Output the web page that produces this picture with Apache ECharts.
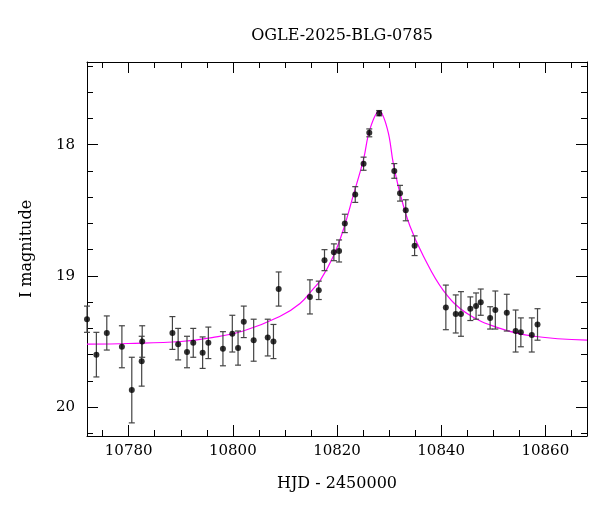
<!DOCTYPE html>
<html><head><meta charset="utf-8">
<script src="https://cdn.jsdelivr.net/npm/echarts@6/dist/echarts.min.js"></script>
<style>html,body{margin:0;padding:0;background:#fff}#c{width:600px;height:512px}</style>
</head><body><div id="c"></div>
<script>
const hjd = [10772.0,10773.8,10775.8,10778.7,10780.6,10782.5,10782.6,10788.4,10789.5,10791.2,10792.4,10794.2,10795.3,10798.1,10799.9,10801.0,10802.1,10804.0,10806.7,10807.8,10808.8,10814.8,10816.5,10817.6,10819.4,10820.4,10821.5,10823.5,10825.1,10826.2,10828.1,10831.0,10832.1,10833.2,10834.9,10840.9,10842.8,10843.8,10845.6,10846.7,10847.6,10849.4,10850.4,10852.6,10854.3,10855.3,10857.4,10858.5];
const mag = [19.33,19.60,19.435,19.54,19.87,19.65,19.50,19.435,19.52,19.58,19.51,19.585,19.51,19.555,19.44,19.55,19.35,19.49,19.47,19.50,19.10,19.16,19.11,18.88,18.82,18.81,18.60,18.38,18.145,17.91,17.76,18.20,18.37,18.50,18.77,19.24,19.29,19.29,19.25,19.23,19.20,19.32,19.26,19.28,19.42,19.43,19.45,19.37];
const err = [0.10,0.17,0.13,0.16,0.25,0.19,0.12,0.125,0.12,0.12,0.11,0.12,0.12,0.13,0.14,0.13,0.12,0.16,0.14,0.13,0.13,0.13,0.07,0.08,0.064,0.084,0.07,0.06,0.05,0.03,0.02,0.056,0.06,0.08,0.075,0.17,0.145,0.17,0.09,0.10,0.10,0.085,0.145,0.14,0.16,0.11,0.13,0.12];
const modelT = [10772,10780,10790,10796,10802,10809,10812.9,10815.4,10816.7,10819.3,10821.2,10823.1,10825.1,10826.3,10828.1,10829.7,10830.8,10832.1,10834.0,10836.6,10840.4,10844.9,10851.3,10857.8,10868];
const modelM = [19.52,19.515,19.50,19.47,19.42,19.31,19.21,19.10,19.04,18.85,18.65,18.39,18.11,17.885,17.745,17.885,18.14,18.37,18.62,18.85,19.11,19.285,19.40,19.46,19.49];
const xMajor = [10780,10800,10820,10840,10860];
const yMajor = [18,19,20];

const xMinor=[]; for(let v=10775;v<=10865;v+=5) xMinor.push(v);
const yMinor=[]; for(let v=17.4;v<=20.21;v+=0.2) yMinor.push(+v.toFixed(1));
const font='DejaVu Serif';
const X0=10772,X1=10868,Y0=17.37,Y1=20.22;
function xa(pos,ticks,len,labels,show){
 return {type:'value',position:pos,min:X0,max:X1,
  axisLine:{show:show,onZero:false,lineStyle:{color:'#000',width:1}},
  axisTick:{show:true,inside:true,length:len,customValues:ticks,lineStyle:{color:'#000'}},
  axisLabel:{show:labels,customValues:xMajor,formatter:v=>String(v),fontFamily:font,fontSize:15,color:'#000',margin:8},
  splitLine:{show:false}};
}
function ya(pos,ticks,len,labels,show){
 return {type:'value',position:pos,min:Y0,max:Y1,inverse:true,
  axisLine:{show:show,onZero:false,lineStyle:{color:'#000',width:1}},
  axisTick:{show:true,inside:true,length:len,customValues:ticks,lineStyle:{color:'#000'}},
  axisLabel:{show:labels,customValues:yMajor,formatter:v=>String(v),fontFamily:font,fontSize:15,color:'#000',margin:12},
  splitLine:{show:false}};
}
const xAxis=[xa('bottom',xMajor,11,true,true),xa('bottom',xMinor,6,false,false),xa('top',xMajor,11,false,true),xa('top',xMinor,6,false,false)];
const yAxis=[ya('left',yMajor,11,true,true),ya('left',yMinor,6,false,false),ya('right',yMajor,11,false,true),ya('right',yMinor,6,false,false)];
xAxis[0].name='HJD - 2450000';xAxis[0].nameLocation='middle';xAxis[0].nameGap=40;
xAxis[0].nameTextStyle={fontFamily:font,fontSize:16,color:'#000'};
yAxis[0].name='I magnitude';yAxis[0].nameLocation='middle';yAxis[0].nameGap=52;
yAxis[0].nameTextStyle={fontFamily:font,fontSize:16,color:'#000'};

const pts=hjd.map((t,i)=>[t,mag[i],err[i]]);
const chart=echarts.init(document.getElementById('c'),null,{renderer:'canvas'});
chart.setOption({
 animation:false,
 title:{text:'OGLE-2025-BLG-0785',left:337,top:23,textAlign:'center',textStyle:{fontFamily:font,fontSize:16,fontWeight:'normal',color:'#000'}},
 grid:{left:87,right:13,top:62,bottom:76},
 xAxis,yAxis,
 series:[
  {type:'line',data:modelT.map((t,i)=>[t,modelM[i]]),smooth:0.4,showSymbol:false,lineStyle:{color:'#ff00ff',width:1.2},z:2},
  {type:'custom',data:pts,z:3,renderItem:(p,api)=>{
    const t=api.value(0),m=api.value(1),e=api.value(2);
    const a=api.coord([t,m-e]),b=api.coord([t,m+e]);
    const s={stroke:'#444',lineWidth:1.2};
    return {type:'group',children:[
     {type:'line',shape:{x1:a[0],y1:a[1],x2:b[0],y2:b[1]},style:s},
     {type:'line',shape:{x1:a[0]-3,y1:a[1],x2:a[0]+3,y2:a[1]},style:s},
     {type:'line',shape:{x1:b[0]-3,y1:b[1],x2:b[0]+3,y2:b[1]},style:s}]};
  },encode:{x:0,y:1}},
  {type:'scatter',data:pts.map(p=>[p[0],p[1]]),symbolSize:6,itemStyle:{color:'#000'},z:4}
 ]
});
</script></body></html>
